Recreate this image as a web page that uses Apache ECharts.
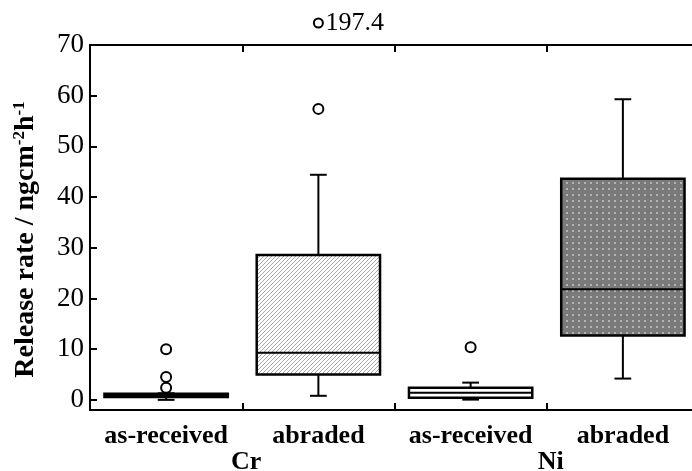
<!DOCTYPE html>
<html>
<head>
<meta charset="utf-8">
<script src="https://cdn.jsdelivr.net/npm/echarts@6/dist/echarts.min.js"></script>
<style>
  html, body { margin: 0; padding: 0; background: #fff; }
  #chart { width: 692px; height: 471px; }
</style>
</head>
<body>
<div id="chart"></div>
<script>
// categories and groups
const categories = ['as-received', 'abraded', 'as-received', 'abraded'];
const groups = ['Cr', 'Ni'];

// box statistics, one value per category
const whiskerLow = [0.0, 0.8, 0.05, 4.2];
const q1 = [0.55, 5.0, 0.4, 12.7];
const median = [0.9, 9.3, 1.4, 21.8];
const q3 = [1.2, 28.6, 2.4, 43.6];
const whiskerHigh = [1.3, 44.4, 3.4, 59.3];

// outliers [categoryIndex, value]
const outliers = [[0, 10.0], [0, 4.5], [0, 2.4], [1, 57.4], [2, 10.4]];
const offscale = [[1, 197.4]];

const yTicks = [0, 10, 20, 30, 40, 50, 60, 70];

const FONT = "'Liberation Serif', 'Times New Roman', serif";

function hatch() {
	var c = document.createElement('canvas');
	c.width = 4; c.height = 4;
	var g = c.getContext('2d');
	g.fillStyle = '#fff';
	g.fillRect(0, 0, 4, 4);
	g.fillStyle = '#a8a8a8';
	for (var i = 0; i < 4; i++) g.fillRect(i, 3 - i, 1, 1);
	return c;
}

function dots() {
	var c = document.createElement('canvas');
	c.width = 6; c.height = 6;
	var g = c.getContext('2d');
	g.fillStyle = '#7a7a7a';
	g.fillRect(0, 0, 6, 6);
	g.fillStyle = '#b4b4b4';
	g.fillRect(2, 2, 2, 2);
	return c;
}

const boxFills = ['#fff', { image: hatch(), repeat: 'repeat' }, '#fff', { image: dots(), repeat: 'repeat' }];

var chart = echarts.init(document.getElementById('chart'));

var tick = { show: true, inside: true, interval: 0, alignWithLabel: false, length: 7, lineStyle: { color: '#000', width: 2 } };

var option = {
	animation: false,
	backgroundColor: '#fff',
	grid: { left: 90, top: 45, right: -7, bottom: 61, outerBoundsMode: 'none', containLabel: false },
	xAxis: [{
		type: 'category',
		data: categories,
		position: 'bottom',
		boundaryGap: true,
		axisLine: { onZero: false, lineStyle: { color: '#000', width: 2 } },
		axisTick: tick,
		axisLabel: { interval: 0, color: '#000', fontFamily: FONT, fontWeight: 'bold', fontSize: 26, margin: 13 },
		splitLine: { show: false }
	}, {
		type: 'category',
		data: groups,
		position: 'bottom',
		axisLine: { show: false, onZero: false },
		axisTick: { show: false },
		axisLabel: { interval: 0, color: '#000', fontFamily: FONT, fontWeight: 'bold', fontSize: 26, margin: 39, padding: [0, 0, 0, 8] }
	}, {
		type: 'category',
		data: categories,
		position: 'top',
		boundaryGap: true,
		axisLine: { onZero: false, lineStyle: { color: '#000', width: 2 } },
		axisTick: tick,
		axisLabel: { show: false }
	}],
	yAxis: {
		type: 'value',
		min: -2,
		max: 70,
		name: 'Release rate / ngcm{sup|-2}h{sup|-1}',
		nameLocation: 'middle',
		nameGap: 49,
		nameRotate: 90,
		nameTextStyle: {
			color: '#000', fontFamily: FONT, fontWeight: 'bold', fontSize: 28,
			padding: [0, 24, 0, 0],
			rich: {
				sup: { fontFamily: FONT, fontWeight: 'bold', fontSize: 17, verticalAlign: 'top', padding: [0, 0, 13, 0] }
			}
		},
		axisLine: { show: true, onZero: false, lineStyle: { color: '#000', width: 2 } },
		axisTick: { show: true, inside: true, length: 7, customValues: yTicks, lineStyle: { color: '#000', width: 2 } },
		axisLabel: { color: '#000', fontFamily: FONT, fontSize: 27, margin: 6, customValues: yTicks },
		splitLine: { show: false }
	},
	series: [{
		type: 'custom',
		xAxisIndex: 0,
		data: categories.map(function (c, i) {
			return [i, whiskerLow[i], q1[i], median[i], q3[i], whiskerHigh[i]];
		}),
		encode: { x: 0, y: [1, 2, 3, 4, 5] },
		renderItem: function (params, api) {
			var i = api.value(0);
			var band = api.size([1, 0])[0];
			var cx = api.coord([i, 0])[0];
			var w = band * 0.81, cap = band * 0.11;
			var y = function (k) { return api.coord([i, api.value(k)])[1]; };
			var yLo = y(1), yQ1 = y(2), yMed = y(3), yQ3 = y(4), yHi = y(5);
			var ln = { stroke: '#000', lineWidth: 2 };
			return {
				type: 'group',
				children: [
					{ type: 'line', shape: { x1: cx, y1: yQ1, x2: cx, y2: yLo }, style: ln },
					{ type: 'line', shape: { x1: cx, y1: yQ3, x2: cx, y2: yHi }, style: ln },
					{ type: 'line', shape: { x1: cx - cap / 2, y1: yLo, x2: cx + cap / 2, y2: yLo }, style: ln },
					{ type: 'line', shape: { x1: cx - cap / 2, y1: yHi, x2: cx + cap / 2, y2: yHi }, style: ln },
					{ type: 'rect', shape: { x: cx - w / 2, y: yQ3, width: w, height: yQ1 - yQ3 },
						style: { fill: boxFills[i], stroke: '#000', lineWidth: 2.5 } },
					{ type: 'line', shape: { x1: cx - w / 2, y1: yMed, x2: cx + w / 2, y2: yMed }, style: ln }
				]
			};
		}
	}, {
		type: 'scatter',
		xAxisIndex: 0,
		data: outliers,
		symbol: 'circle',
		symbolSize: 10,
		itemStyle: { color: '#fff', borderColor: '#000', borderWidth: 2, opacity: 1 },
		z: 5
	}, {
		type: 'custom',
		xAxisIndex: 0,
		data: offscale,
		encode: { x: 0, y: 1 },
		renderItem: function (params, api) {
			var p = api.coord([api.value(0), 70]);
			var cy = p[1] - 22;
			return {
				type: 'group',
				children: [
					{ type: 'circle', shape: { cx: p[0], cy: cy, r: 4.5 }, style: { fill: '#fff', stroke: '#000', lineWidth: 2 } },
					{ type: 'text', x: p[0] + 7, y: cy,
						style: { text: String(api.value(1)), fill: '#000', font: '26px ' + FONT, textAlign: 'left', textVerticalAlign: 'middle' } }
				]
			};
		}
	}]
};

chart.setOption(option);
</script>
</body>
</html>
